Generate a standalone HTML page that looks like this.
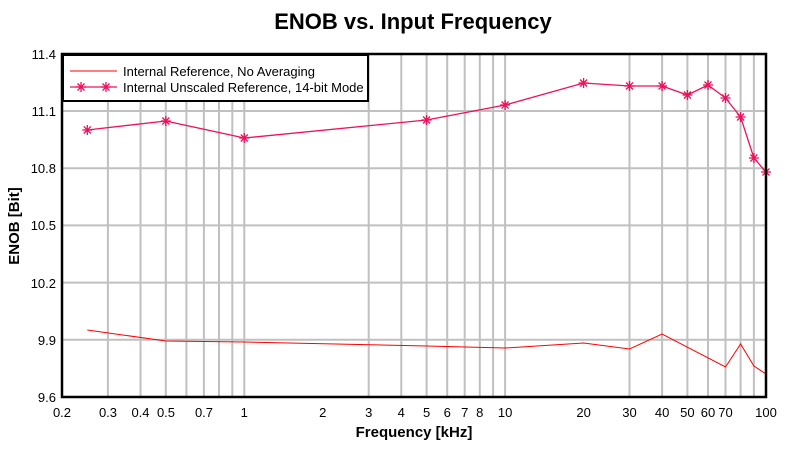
<!DOCTYPE html>
<html><head><meta charset="utf-8"><style>body{margin:0;background:#fff}svg{display:block}text{font-family:"Liberation Sans",Arial,sans-serif}</style></head><body>
<svg width="793" height="449" xmlns="http://www.w3.org/2000/svg">
<defs>
<g id="s"><line x1="-5" x2="5" y1="0" y2="0"/><line x1="0" x2="0" y1="-5" y2="5"/><line x1="-3.5" x2="3.5" y1="-3.5" y2="3.5"/><line x1="-3.5" x2="3.5" y1="3.5" y2="-3.5"/></g>
</defs>
<text x="413" y="29" font-size="22" font-weight="bold" text-anchor="middle">ENOB vs. Input Frequency</text>
<g stroke="#c0c0c0" stroke-width="2">
<line x1="62" x2="766" y1="339.8" y2="339.8"/><line x1="62" x2="766" y1="282.6" y2="282.6"/><line x1="62" x2="766" y1="225.4" y2="225.4"/><line x1="62" x2="766" y1="168.2" y2="168.2"/><line x1="62" x2="766" y1="111" y2="111"/>
<g id="v">
<line x1="107.9" x2="107.9" y1="54" y2="397"/><line x1="140.5" x2="140.5" y1="54" y2="397"/><line x1="165.8" x2="165.8" y1="54" y2="397"/><line x1="186.4" x2="186.4" y1="54" y2="397"/><line x1="203.9" x2="203.9" y1="54" y2="397"/><line x1="219" x2="219" y1="54" y2="397"/><line x1="232.3" x2="232.3" y1="54" y2="397"/><line x1="244.3" x2="244.3" y1="54" y2="397"/>
</g>
<use href="#v" x="260.8"/><use href="#v" x="521.6"/>
</g>
<polyline fill="none" stroke="#ff0000" stroke-width="1" points="87.3,330 165.8,341 244.3,342 426.6,346 505.1,348 583.6,343 629.5,349 662.1,334 725.5,367 740.6,344 753.9,366 766,374"/>
<polyline fill="none" stroke="#f0105a" stroke-width="1.3" points="87.3,130 165.8,121 244.3,138 426.6,120 505.1,105 583.6,83 629.5,86 662.1,86 687.4,95 708,85 725.5,98 740.6,117 753.9,158 766,172"/>
<g stroke="#f0105a" stroke-width="1.3">
<use href="#s" x="87.3" y="130"/><use href="#s" x="165.8" y="121"/><use href="#s" x="244.3" y="138"/><use href="#s" x="426.6" y="120"/><use href="#s" x="505.1" y="105"/><use href="#s" x="583.6" y="83"/><use href="#s" x="629.5" y="86"/><use href="#s" x="662.1" y="86"/><use href="#s" x="687.4" y="95"/><use href="#s" x="708" y="85"/><use href="#s" x="725.5" y="98"/><use href="#s" x="740.6" y="117"/><use href="#s" x="753.9" y="158"/><use href="#s" x="766" y="172"/>
</g>
<rect x="63" y="55" width="305" height="46" fill="#fff" stroke="#000" stroke-width="2"/>
<line x1="70" x2="117" y1="71" y2="71" stroke="#ff0000"/>
<line x1="70" x2="117" y1="87" y2="87" stroke="#f0105a" stroke-width="1.3"/>
<g stroke="#f0105a" stroke-width="1.3"><use href="#s" x="81" y="87"/><use href="#s" x="106" y="87"/></g>
<text x="123" y="76" font-size="13">Internal Reference, No Averaging</text>
<text x="123" y="92" font-size="13">Internal Unscaled Reference, 14-bit Mode</text>
<rect x="62" y="54" width="704" height="343" fill="none" stroke="#000" stroke-width="2.5"/>
<g font-size="13" text-anchor="end">
<text x="56" y="59">11.4</text><text x="56" y="116">11.1</text><text x="56" y="173">10.8</text><text x="56" y="230">10.5</text><text x="56" y="288">10.2</text><text x="56" y="345">9.9</text><text x="56" y="402">9.6</text>
</g>
<g font-size="13" text-anchor="middle">
<text x="62" y="417">0.2</text><text x="108" y="417">0.3</text><text x="140.5" y="417">0.4</text><text x="166" y="417">0.5</text><text x="204" y="417">0.7</text><text x="244.3" y="417">1</text><text x="322.8" y="417">2</text><text x="368.7" y="417">3</text><text x="401.3" y="417">4</text><text x="426.6" y="417">5</text><text x="447.2" y="417">6</text><text x="464.7" y="417">7</text><text x="479.8" y="417">8</text><text x="505.1" y="417">10</text><text x="583.6" y="417">20</text><text x="629.5" y="417">30</text><text x="662.1" y="417">40</text><text x="687.4" y="417">50</text><text x="708" y="417">60</text><text x="725.5" y="417">70</text><text x="766" y="417">100</text>
</g>
<text x="414" y="437" font-size="15" font-weight="bold" text-anchor="middle">Frequency [kHz]</text>
<text transform="translate(19,226) rotate(-90)" font-size="15" font-weight="bold" text-anchor="middle">ENOB [Bit]</text>
</svg>
</body></html>
